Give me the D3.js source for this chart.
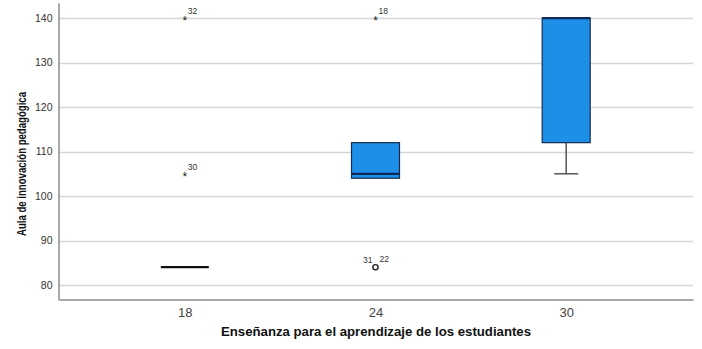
<!DOCTYPE html>
<html>
<head>
<meta charset="utf-8">
<script src="https://cdn.jsdelivr.net/npm/d3@7"></script>
<style>
  body { margin: 0; background: #fff; }
  svg { display: block; }
</style>
</head>
<body>
<svg></svg>
<script>
// groups on the x axis
var groups = ["18", "24", "30"];
// box stats per group: lower whisker, q1, median, q3, upper whisker
var whiskLow = [84, 104, 105];
var q1 = [84, 104, 112];
var medians = [84, 105, 140];
var q3 = [84, 112, 140];
var whiskHigh = [84, 112, 140];
// outliers: group, value, kind, label
var outGroup = ["18", "18", "24", "24"];
var outValue = [140, 105, 140, 84];
var outKind = ["extreme", "extreme", "extreme", "mild"];
var outLabel = ["32", "30", "18", "31  22"];
var yTicks = [80, 90, 100, 110, 120, 130, 140];

var width = 702;
var height = 349;
var plotLeft = 58, plotRight = 693, plotTop = 3, plotBottom = 299;

var svg = d3.select("svg").attr("width", width).attr("height", height);

var xScale = d3.scalePoint().domain(groups).range([plotLeft, plotRight]).padding(0.665);
var yScale = d3.scaleLinear().domain([76.85, 143.4]).range([plotBottom, plotTop]);
var boxW = 48;
var font = "Liberation Sans, Arial, sans-serif";

// gridlines
svg.append("g")
  .selectAll("line")
  .data(yTicks)
  .enter()
  .append("line")
  .attr("x1", plotLeft)
  .attr("x2", plotRight)
  .attr("y1", (d) => Math.round(yScale(d)) + 0.5)
  .attr("y2", (d) => Math.round(yScale(d)) + 0.5)
  .attr("stroke", "#d6d6d6")
  .attr("stroke-width", 1.5);

// axes
var yAxis = d3.axisLeft(yScale).tickValues(yTicks).tickSize(0).tickPadding(6);
var yG = svg.append("g").attr("transform", "translate(" + (plotLeft + 0.5) + ",0)").call(yAxis);
yG.select(".domain").attr("stroke", "#8c8c8c").attr("stroke-width", 1.5);
yG.selectAll("text")
  .attr("font-family", font)
  .attr("font-size", "10.5px")
  .attr("fill", "#333");

var xAxis = d3.axisBottom(xScale).tickSize(0).tickPadding(8);
var xG = svg.append("g").attr("transform", "translate(0," + (plotBottom + 0.5) + ")").call(xAxis);
xG.select(".domain").attr("stroke", "#8c8c8c").attr("stroke-width", 1.5);
xG.selectAll("text")
  .attr("font-family", font)
  .attr("font-size", "13px")
  .attr("fill", "#444");

// whiskers
var idx = d3.range(groups.length);
var wg = svg.append("g");
idx.forEach((i) => {
  var cx = xScale(groups[i]);
  if (whiskLow[i] < q1[i]) {
    wg.append("line").attr("x1", cx).attr("x2", cx)
      .attr("y1", yScale(q1[i])).attr("y2", yScale(whiskLow[i]))
      .attr("stroke", "#555").attr("stroke-width", 1.5);
    wg.append("line").attr("x1", cx - boxW / 4).attr("x2", cx + boxW / 4)
      .attr("y1", yScale(whiskLow[i])).attr("y2", yScale(whiskLow[i]))
      .attr("stroke", "#555").attr("stroke-width", 1.5);
  }
  if (whiskHigh[i] > q3[i]) {
    wg.append("line").attr("x1", cx).attr("x2", cx)
      .attr("y1", yScale(q3[i])).attr("y2", yScale(whiskHigh[i]))
      .attr("stroke", "#555").attr("stroke-width", 1.5);
    wg.append("line").attr("x1", cx - boxW / 4).attr("x2", cx + boxW / 4)
      .attr("y1", yScale(whiskHigh[i])).attr("y2", yScale(whiskHigh[i]))
      .attr("stroke", "#555").attr("stroke-width", 1.5);
  }
});

// boxes
svg.append("g")
  .selectAll("rect")
  .data(idx.filter((i) => q3[i] > q1[i]))
  .enter()
  .append("rect")
  .attr("x", (i) => xScale(groups[i]) - boxW / 2)
  .attr("y", (i) => yScale(q3[i]))
  .attr("width", boxW)
  .attr("height", (i) => yScale(q1[i]) - yScale(q3[i]))
  .attr("fill", "#1e8fe6")
  .attr("stroke", "#152c4f")
  .attr("stroke-width", 1.2);

// medians
svg.append("g")
  .selectAll("line")
  .data(idx)
  .enter()
  .append("line")
  .attr("x1", (i) => xScale(groups[i]) - boxW / 2)
  .attr("x2", (i) => xScale(groups[i]) + boxW / 2)
  .attr("y1", (i) => yScale(medians[i]))
  .attr("y2", (i) => yScale(medians[i]))
  .attr("stroke", (i) => (q3[i] > q1[i] ? "#0d2a5c" : "#111"))
  .attr("stroke-width", 2.2);

// outliers
var og = svg.append("g");
outValue.forEach((v, k) => {
  var cx = xScale(outGroup[k]);
  var cy = yScale(v);
  if (outKind[k] === "extreme") {
    og.append("text").attr("x", cx).attr("y", cy + 7)
      .attr("text-anchor", "middle")
      .attr("font-family", font)
      .attr("font-size", "12px").attr("fill", "#222").text("*");
    og.append("text").attr("x", cx + 3).attr("y", cy - 4)
      .attr("font-family", font)
      .attr("font-size", "8.5px").attr("fill", "#333").text(outLabel[k]);
  } else {
    og.append("circle").attr("cx", cx).attr("cy", cy).attr("r", 2.6)
      .attr("fill", "none").attr("stroke", "#222").attr("stroke-width", 1.4);
    var parts = outLabel[k].split(/\s+/);
    og.append("text").attr("x", cx - 3).attr("y", cy - 4)
      .attr("text-anchor", "end")
      .attr("font-family", font)
      .attr("font-size", "8.5px").attr("fill", "#333").text(parts[0]);
    og.append("text").attr("x", cx + 4).attr("y", cy - 5)
      .attr("font-family", font)
      .attr("font-size", "8.5px").attr("fill", "#333").text(parts[1]);
  }
});

// axis titles
svg.append("text")
  .attr("transform", "translate(26,164) rotate(-90)")
  .attr("text-anchor", "middle")
  .attr("font-family", font)
  .attr("font-weight", "bold")
  .attr("font-size", "12.5px")
  .attr("textLength", 144)
  .attr("lengthAdjust", "spacingAndGlyphs")
  .attr("fill", "#111")
  .text("Aula de innovación pedagógica");

svg.append("text")
  .attr("x", 376)
  .attr("y", 336)
  .attr("text-anchor", "middle")
  .attr("font-family", font)
  .attr("font-weight", "bold")
  .attr("font-size", "13.2px")
  .attr("fill", "#111")
  .text("Enseñanza para el aprendizaje de los estudiantes");
</script>
</body>
</html>
